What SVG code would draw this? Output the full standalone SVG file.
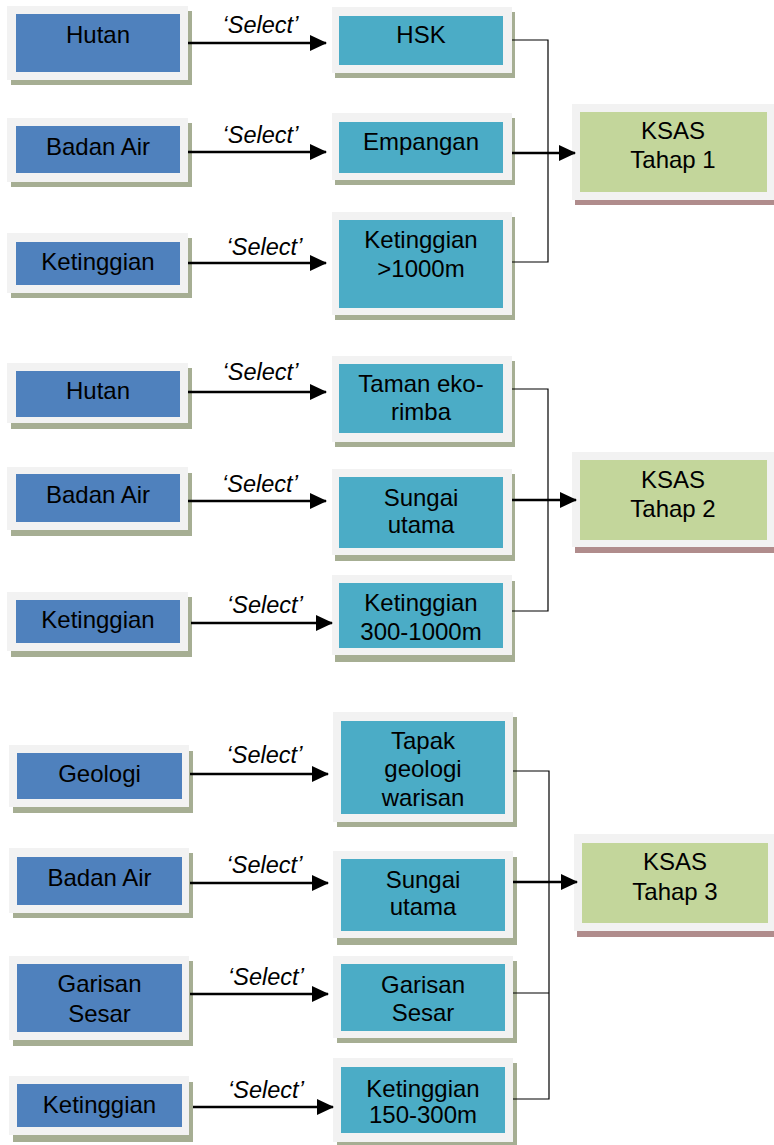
<svg xmlns="http://www.w3.org/2000/svg" width="774" height="1145" viewBox="0 0 774 1145">
<style>
.bg{fill:#ffffff}
.frame{fill:#f2f2f2}
.sh{fill:#a6ae93}
.sh2{fill:#b08c8c}
.blue{fill:#4f81bd}
.aqua{fill:#4bacc6}
.green{fill:#c3d69b}
text{font-family:"Liberation Sans",Arial,sans-serif;font-size:24px;fill:#000;text-anchor:middle}
.sel{font-style:italic;font-size:23.5px}
.arr{stroke:#000;stroke-width:2.5;fill:none;marker-end:url(#ah)}
.thin{stroke:#000;stroke-width:1.2;fill:none}
</style>
<defs>
<marker id="ah" markerUnits="userSpaceOnUse" markerWidth="17" markerHeight="16" refX="16" refY="8" orient="auto" viewBox="0 0 17 16">
<path d="M0,0 L17,8 L0,16 z" fill="#000"/>
</marker>
</defs>
<rect class="bg" x="0" y="0" width="774" height="1145"/>

<!-- Group 1 left -->
<g id="hutan1">
<rect class="sh" x="11" y="11" width="181" height="74"/>
<rect class="frame" x="7" y="6" width="181" height="74"/>
<rect class="blue" x="16" y="14" width="164" height="58"/>
<text x="98" y="43">Hutan</text>
</g>
<g id="badanair1">
<rect class="sh" x="11" y="123" width="181" height="64"/>
<rect class="frame" x="7" y="118" width="181" height="64"/>
<rect class="blue" x="16" y="126" width="164" height="47"/>
<text x="98" y="155">Badan Air</text>
</g>
<g id="ketinggian1">
<rect class="sh" x="11" y="238" width="181" height="60"/>
<rect class="frame" x="7" y="233" width="181" height="60"/>
<rect class="blue" x="16" y="242" width="164" height="43"/>
<text x="98" y="270">Ketinggian</text>
</g>

<!-- Group 1 middle -->
<g id="hsk">
<rect class="sh" x="335" y="12" width="180" height="66"/>
<rect class="frame" x="332" y="7" width="180" height="66"/>
<rect class="aqua" x="339" y="16" width="164" height="49"/>
<text x="421" y="43">HSK</text>
</g>
<g id="empangan">
<rect class="sh" x="335" y="118" width="180" height="67"/>
<rect class="frame" x="332" y="113" width="180" height="67"/>
<rect class="aqua" x="339" y="122" width="164" height="51"/>
<text x="421" y="150">Empangan</text>
</g>
<g id="ket1000">
<rect class="sh" x="335" y="217" width="180" height="103"/>
<rect class="frame" x="332" y="212" width="180" height="103"/>
<rect class="aqua" x="339" y="220" width="164" height="88"/>
<text x="421" y="248">Ketinggian</text>
<text x="421" y="277">&gt;1000m</text>
</g>
<g id="ksas1">
<rect class="sh2" x="575" y="109" width="210" height="96"/>
<rect class="frame" x="572" y="104" width="210" height="96"/>
<rect class="green" x="580" y="112" width="187" height="80"/>
<text x="673" y="139">KSAS</text>
<text x="673" y="168">Tahap 1</text>
</g>

<!-- Group 2 left -->
<g id="hutan2">
<rect class="sh" x="11" y="368" width="181" height="61"/>
<rect class="frame" x="7" y="363" width="181" height="60"/>
<rect class="blue" x="16" y="371" width="164" height="46"/>
<text x="98" y="399">Hutan</text>
</g>
<g id="badanair2">
<rect class="sh" x="11" y="473" width="181" height="63"/>
<rect class="frame" x="7" y="467" width="181" height="63"/>
<rect class="blue" x="16" y="474" width="164" height="48"/>
<text x="98" y="503">Badan Air</text>
</g>
<g id="ketinggian2">
<rect class="sh" x="11" y="597" width="181" height="60"/>
<rect class="frame" x="7" y="592" width="181" height="59"/>
<rect class="blue" x="16" y="600" width="164" height="43"/>
<text x="98" y="628">Ketinggian</text>
</g>

<!-- Group 2 middle -->
<g id="tamanekorimba">
<rect class="sh" x="335" y="361" width="180" height="86"/>
<rect class="frame" x="332" y="356" width="180" height="86"/>
<rect class="aqua" x="339" y="364" width="164" height="69"/>
<text x="421" y="392">Taman eko-</text>
<text x="421" y="420">rimba</text>
</g>
<g id="sungai2">
<rect class="sh" x="335" y="474" width="180" height="87"/>
<rect class="frame" x="332" y="469" width="180" height="86"/>
<rect class="aqua" x="339" y="477" width="164" height="71"/>
<text x="421" y="506">Sungai</text>
<text x="421" y="533">utama</text>
</g>
<g id="ket300">
<rect class="sh" x="335" y="581" width="180" height="81"/>
<rect class="frame" x="332" y="575" width="180" height="80"/>
<rect class="aqua" x="339" y="583" width="164" height="65"/>
<text x="421" y="611">Ketinggian</text>
<text x="421" y="640">300-1000m</text>
</g>
<g id="ksas2">
<rect class="sh2" x="575" y="458" width="210" height="95"/>
<rect class="frame" x="572" y="452" width="210" height="95"/>
<rect class="green" x="580" y="460" width="187" height="80"/>
<text x="673" y="488">KSAS</text>
<text x="673" y="517">Tahap 2</text>
</g>

<!-- Group 3 left -->
<g id="geologi">
<rect class="sh" x="13" y="751" width="180" height="62"/>
<rect class="frame" x="9" y="745" width="180" height="62"/>
<rect class="blue" x="17" y="753" width="165" height="46"/>
<text x="99.5" y="782">Geologi</text>
</g>
<g id="badanair3">
<rect class="sh" x="13" y="853" width="180" height="65"/>
<rect class="frame" x="9" y="848" width="180" height="65"/>
<rect class="blue" x="17" y="857" width="165" height="48"/>
<text x="99.5" y="886">Badan Air</text>
</g>
<g id="garisan1">
<rect class="sh" x="13" y="961" width="180" height="85"/>
<rect class="frame" x="9" y="956" width="180" height="84"/>
<rect class="blue" x="17" y="964" width="165" height="68"/>
<text x="99.5" y="992">Garisan</text>
<text x="99.5" y="1022">Sesar</text>
</g>
<g id="ketinggian3">
<rect class="sh" x="13" y="1082" width="180" height="60"/>
<rect class="frame" x="9" y="1076" width="180" height="59"/>
<rect class="blue" x="17" y="1084" width="165" height="43"/>
<text x="99.5" y="1113">Ketinggian</text>
</g>

<!-- Group 3 middle -->
<g id="tapak">
<rect class="sh" x="337" y="717" width="180" height="110"/>
<rect class="frame" x="333" y="712" width="180" height="110"/>
<rect class="aqua" x="341" y="721" width="164" height="93"/>
<text x="423" y="749">Tapak</text>
<text x="423" y="777">geologi</text>
<text x="423" y="806">warisan</text>
</g>
<g id="sungai3">
<rect class="sh" x="337" y="857" width="180" height="88"/>
<rect class="frame" x="333" y="851" width="180" height="87"/>
<rect class="aqua" x="341" y="859" width="164" height="72"/>
<text x="423" y="888">Sungai</text>
<text x="423" y="915">utama</text>
</g>
<g id="garisan2">
<rect class="sh" x="337" y="961" width="180" height="82"/>
<rect class="frame" x="333" y="956" width="180" height="82"/>
<rect class="aqua" x="341" y="964" width="164" height="67"/>
<text x="423" y="993">Garisan</text>
<text x="423" y="1021">Sesar</text>
</g>
<g id="ket150">
<rect class="sh" x="337" y="1063" width="180" height="84"/>
<rect class="frame" x="333" y="1058" width="180" height="84"/>
<rect class="aqua" x="341" y="1067" width="164" height="66"/>
<text x="423" y="1097">Ketinggian</text>
<text x="423" y="1123">150-300m</text>
</g>
<g id="ksas3">
<rect class="sh2" x="577" y="840" width="210" height="97"/>
<rect class="frame" x="574" y="834" width="210" height="97"/>
<rect class="green" x="582" y="843" width="186" height="80"/>
<text x="675" y="870">KSAS</text>
<text x="675" y="900">Tahap 3</text>
</g>

<!-- Connectors -->
<g id="connectors">
<line class="arr" x1="188" y1="43" x2="326" y2="43"/>
<line class="arr" x1="188" y1="152" x2="326" y2="152"/>
<line class="arr" x1="188" y1="263" x2="326" y2="263"/>
<polyline class="thin" points="512,40 548,40 548,262 512,262"/>
<line class="arr" x1="512" y1="153" x2="575" y2="153"/>

<line class="arr" x1="188" y1="392" x2="326" y2="392"/>
<line class="arr" x1="188" y1="501" x2="326" y2="501"/>
<line class="arr" x1="191" y1="623" x2="332" y2="623"/>
<polyline class="thin" points="512,389 548,389 548,611 512,611"/>
<line class="arr" x1="512" y1="500" x2="576" y2="500"/>

<line class="arr" x1="190" y1="774" x2="328" y2="774"/>
<line class="arr" x1="190" y1="883" x2="328" y2="883"/>
<line class="arr" x1="190" y1="994" x2="328" y2="994"/>
<line class="arr" x1="193" y1="1107" x2="333" y2="1107"/>
<polyline class="thin" points="513,771 549,771 549,1099 513,1099"/>
<line class="thin" x1="513" y1="993" x2="549" y2="993"/>
<line class="arr" x1="513" y1="882" x2="577" y2="882"/>

<text class="sel" x="260.5" y="33">‘Select’</text>
<text class="sel" x="260.5" y="143">‘Select’</text>
<text class="sel" x="264.5" y="255">‘Select’</text>
<text class="sel" x="260.5" y="380">‘Select’</text>
<text class="sel" x="260" y="492">‘Select’</text>
<text class="sel" x="265" y="613">‘Select’</text>
<text class="sel" x="264.5" y="763">‘Select’</text>
<text class="sel" x="264.5" y="873">‘Select’</text>
<text class="sel" x="266" y="985">‘Select’</text>
<text class="sel" x="266" y="1098">‘Select’</text>
</g>
</svg>
